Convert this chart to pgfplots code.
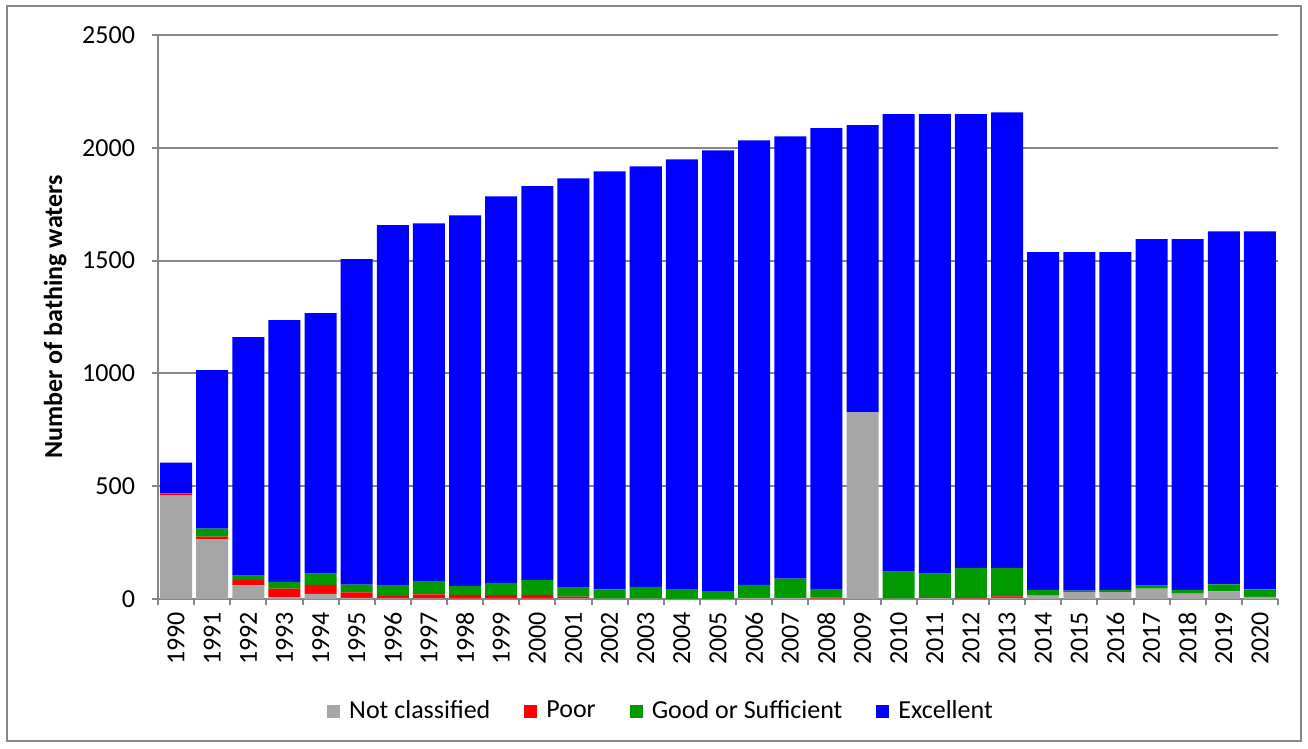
\documentclass[border=0pt]{standalone}
\usepackage{fontspec}
\setmainfont{Carlito}
\usepackage{pgfplots}
\pgfplotsset{compat=1.18}
\usepackage{pgfplotstable}
\usetikzlibrary{calc}
\definecolor{ncgray}{RGB}{166,166,166}
\definecolor{poorred}{RGB}{255,0,0}
\definecolor{goodgreen}{RGB}{0,153,0}
\definecolor{excblue}{RGB}{0,0,255}
\definecolor{axgray}{RGB}{134,134,134}
\pgfplotstableread{
x year NC Poor Good Exc
0 1990 460 7 2 136
1 1991 264 13 35 703
2 1992 60 25 19 1057
3 1993 8 38 30 1160
4 1994 23 40 50 1154
5 1995 5 24 35 1442
6 1996 3 10 48 1596
7 1997 3 18 58 1586
8 1998 2 16 40 1643
9 1999 2 15 55 1713
10 2000 2 16 66 1746
11 2001 3 7 40 1815
12 2002 2 0 41 1853
13 2003 2 0 52 1864
14 2004 1 0 43 1905
15 2005 1 0 34 1954
16 2006 5 0 58 1970
17 2007 5 0 85 1961
18 2008 2 4 38 2043
19 2009 827 0 0 1273
20 2010 2 0 119 2028
21 2011 5 4 103 2037
22 2012 2 3 132 2012
23 2013 5 7 125 2020
24 2014 15 0 24 1498
25 2015 30 0 7 1500
26 2016 30 0 9 1498
27 2017 46 0 13 1536
28 2018 24 0 15 1556
29 2019 34 0 31 1565
30 2020 9 0 34 1587
}\datatable
\begin{document}
\fontsize{13}{15.5}\selectfont
\begin{tikzpicture}
\begin{axis}[name=ax, scale only axis, width=560pt, height=282pt,
  ybar stacked, bar width=0.886,
  xmin=-0.5, xmax=30.5, ymin=0, ymax=2500,
  xtick={0,...,30},
  xticklabels={1990,1991,1992,1993,1994,1995,1996,1997,1998,1999,2000,2001,2002,2003,2004,2005,2006,2007,2008,2009,2010,2011,2012,2013,2014,2015,2016,2017,2018,2019,2020},
  minor xtick={-0.5,0.5,...,30.5},
  ytick={0,500,...,2500},
  axis x line*=bottom, axis y line*=left,
  axis line style={axgray, line width=1pt},
  tick align=outside, major tick length=3pt, minor tick length=3pt,
  major x tick style={draw=none},
  minor x tick style={axgray, line width=1pt},
  y tick style={axgray, line width=1pt},
  ymajorgrids, grid style={axgray, line width=1pt},
  x tick label style={rotate=90, anchor=east, xshift=1pt},
  yticklabel style={xshift=-4pt},
  /pgf/number format/assume math mode=true,
  /pgf/number format/1000 sep={},
  ylabel={\bfseries Number of bathing waters},
  ylabel style={yshift=-1pt},
  legend style={at={(0.45,-0.1986)}, anchor=center, draw=none, legend columns=-1,
    /tikz/every odd column/.append style={column sep=2.5pt},
    /tikz/every even column/.append style={column sep=15pt}},
  legend image code/.code={\fill[#1] (0pt,-3.25pt) rectangle (6.5pt,3.25pt);},
]
\addplot[fill=ncgray, draw=none] table[x=x, y=NC] {\datatable};
\addplot[fill=poorred, draw=none] table[x=x, y=Poor] {\datatable};
\addplot[fill=goodgreen, draw=none] table[x=x, y=Good] {\datatable};
\addplot[fill=excblue, draw=none] table[x=x, y=Exc] {\datatable};
\legend{Not classified, Poor, Good or Sufficient, Excellent}
\end{axis}
\draw[color=axgray, line width=1pt] ($(ax.south west)+(-75.5pt,-71pt)$) rectangle ($(ax.north east)+(11.5pt,14.5pt)$);
\path ($(ax.south west)+(-79pt,-74.5pt)$) rectangle ($(ax.north east)+(15pt,17.5pt)$);
\end{tikzpicture}
\end{document}
